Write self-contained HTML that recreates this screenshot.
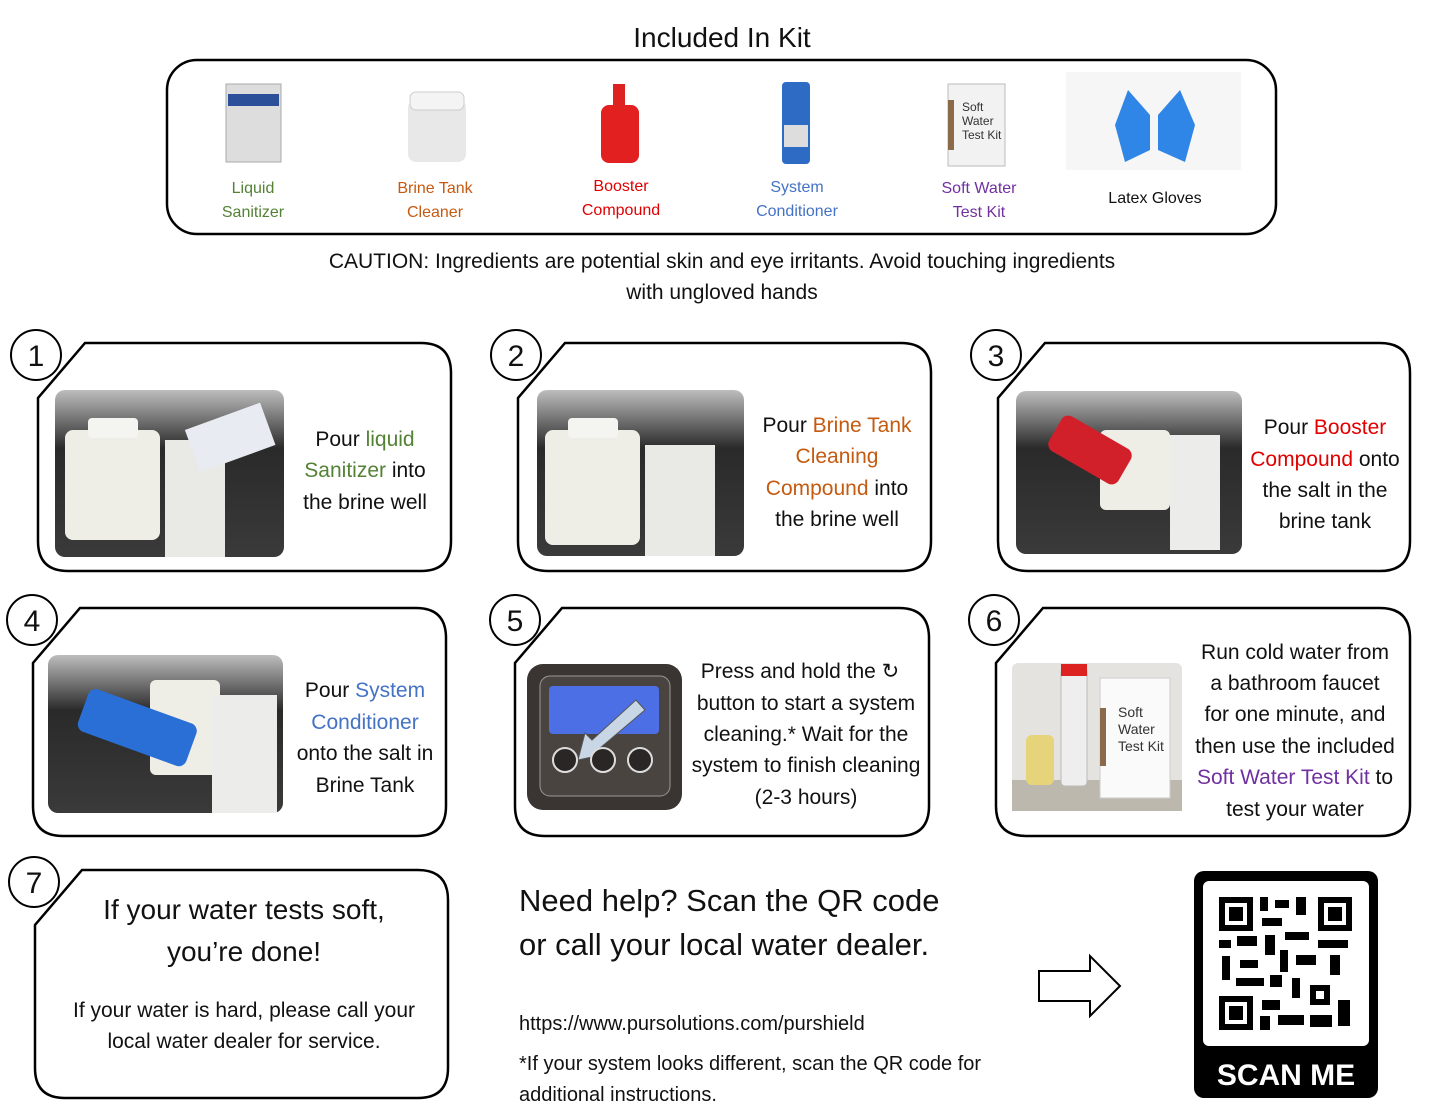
<!DOCTYPE html><html><head><meta charset="utf-8"><style>
html,body{margin:0;padding:0;background:#fff;}
svg{display:block;font-family:"Liberation Sans",sans-serif;}
</style></head><body>
<svg width="1445" height="1117" viewBox="0 0 1445 1117" xmlns="http://www.w3.org/2000/svg">
<defs>
<linearGradient id="ph" x1="0" y1="0" x2="0" y2="1"><stop offset="0" stop-color="#bdbdbd"/><stop offset="0.35" stop-color="#2a2a2a"/><stop offset="1" stop-color="#3a3a3a"/></linearGradient>
</defs>
<text x="722" y="47" font-size="28" text-anchor="middle" fill="#111">Included In Kit</text>
<rect x="167" y="60" width="1109" height="174" rx="30" fill="none" stroke="#000" stroke-width="2.5"/>
<rect x="226" y="84" width="55" height="78" fill="#ddd" stroke="#aaa"/><rect x="228" y="94" width="51" height="12" fill="#2c4f9a"/>
<rect x="408" y="100" width="58" height="62" rx="8" fill="#e8e8e8"/><rect x="410" y="92" width="54" height="18" rx="6" fill="#f4f4f4" stroke="#ccc"/>
<rect x="601" y="105" width="38" height="58" rx="8" fill="#e32020"/><rect x="613" y="84" width="12" height="22" fill="#d22"/>
<rect x="782" y="82" width="28" height="82" rx="4" fill="#2e6bc4"/><rect x="784" y="125" width="24" height="22" fill="#ddd"/>
<rect x="948" y="84" width="57" height="82" fill="#f2f2f2" stroke="#bbb"/><rect x="948" y="100" width="6" height="50" fill="#8b6a4a"/>
<text font-size="12" fill="#333"><tspan x="962" y="111">Soft</tspan><tspan x="962" y="125">Water</tspan><tspan x="962" y="139">Test Kit</tspan></text>
<rect x="1066" y="72" width="175" height="98" fill="#f6f6f6"/>
<path d="M1125 162 L1115 125 L1128 90 L1150 115 L1150 150 Z" fill="#2f86e6"/>
<path d="M1185 162 L1195 125 L1180 90 L1158 115 L1158 150 Z" fill="#2f86e6"/>
<g font-size="16" text-anchor="middle">
<text fill="#548235"><tspan x="253" y="193">Liquid</tspan><tspan x="253" y="217">Sanitizer</tspan></text>
<text fill="#c55a11"><tspan x="435" y="193">Brine Tank</tspan><tspan x="435" y="217">Cleaner</tspan></text>
<text fill="#e00000"><tspan x="621" y="191">Booster</tspan><tspan x="621" y="215">Compound</tspan></text>
<text fill="#4472c4"><tspan x="797" y="192">System</tspan><tspan x="797" y="216">Conditioner</tspan></text>
<text fill="#7030a0"><tspan x="979" y="193">Soft Water</tspan><tspan x="979" y="217">Test Kit</tspan></text>
<text x="1155" y="203" fill="#111">Latex Gloves</text>
</g>
<g font-size="21" text-anchor="middle" fill="#111">
<text x="722" y="268">CAUTION: Ingredients are potential skin and eye irritants. Avoid touching ingredients</text>
<text x="722" y="299">with ungloved hands</text>
</g>
<g fill="none" stroke="#000" stroke-width="2.5">
<path d="M85 343 L421 343 Q451 343 451 373 L451 541 Q451 571 421 571 L68 571 Q38 571 38 541 L38 398 Z"/>
<path d="M565 343 L901 343 Q931 343 931 373 L931 541 Q931 571 901 571 L548 571 Q518 571 518 541 L518 398 Z"/>
<path d="M1045 343 L1380 343 Q1410 343 1410 373 L1410 541 Q1410 571 1380 571 L1028 571 Q998 571 998 541 L998 398 Z"/>
<path d="M80 608 L416 608 Q446 608 446 638 L446 806 Q446 836 416 836 L63 836 Q33 836 33 806 L33 663 Z"/>
<path d="M562 608 L899 608 Q929 608 929 638 L929 806 Q929 836 899 836 L545 836 Q515 836 515 806 L515 663 Z"/>
<path d="M1043 608 L1380 608 Q1410 608 1410 638 L1410 806 Q1410 836 1380 836 L1026 836 Q996 836 996 806 L996 663 Z"/>
<path d="M82 870 L418 870 Q448 870 448 900 L448 1068 Q448 1098 418 1098 L65 1098 Q35 1098 35 1068 L35 925 Z"/>
</g>
<g fill="#fff" stroke="#000" stroke-width="2">
<circle cx="36" cy="355" r="25"/><circle cx="516" cy="355" r="25"/><circle cx="996" cy="355" r="25"/>
<circle cx="32" cy="620" r="25"/><circle cx="515" cy="620" r="25"/><circle cx="994" cy="620" r="25"/><circle cx="34" cy="882" r="25"/>
</g>
<g font-size="30" text-anchor="middle" fill="#111">
<text x="36" y="366">1</text><text x="516" y="366">2</text><text x="996" y="366">3</text>
<text x="32" y="631">4</text><text x="515" y="631">5</text><text x="994" y="631">6</text><text x="34" y="893">7</text>
</g>
<rect x="55" y="390" width="229" height="167" rx="10" fill="url(#ph)"/>
<rect x="65" y="430" width="95" height="110" rx="8" fill="#efeee6"/><rect x="88" y="418" width="50" height="20" rx="4" fill="#f4f4f0"/>
<rect x="165" y="440" width="60" height="117" fill="#e9e9e6"/><rect x="190" y="415" width="80" height="45" fill="#e8ecf2" transform="rotate(-20 230 437)"/>
<rect x="537" y="390" width="207" height="166" rx="10" fill="url(#ph)"/>
<rect x="545" y="430" width="95" height="115" rx="8" fill="#efeee6"/><rect x="568" y="418" width="50" height="20" rx="4" fill="#f4f4f0"/>
<rect x="645" y="445" width="70" height="111" fill="#e9e9e6"/>
<rect x="1016" y="391" width="226" height="163" rx="10" fill="url(#ph)"/>
<rect x="1100" y="430" width="70" height="80" rx="6" fill="#efeee6"/><rect x="1170" y="435" width="50" height="115" fill="#ececea"/>
<rect x="1050" y="430" width="80" height="40" rx="8" fill="#d2202a" transform="rotate(30 1090 450)"/>
<rect x="48" y="655" width="235" height="158" rx="10" fill="url(#ph)"/>
<rect x="150" y="680" width="70" height="95" rx="6" fill="#efeee6"/><rect x="212" y="695" width="65" height="118" fill="#ececea"/>
<rect x="80" y="705" width="115" height="45" rx="8" fill="#2a6fd6" transform="rotate(20 137 727)"/>
<rect x="527" y="664" width="155" height="146" rx="16" fill="#3a3533"/>
<rect x="540" y="676" width="130" height="120" rx="10" fill="#4a4441" stroke="#999"/>
<rect x="549" y="686" width="110" height="48" rx="4" fill="#4d6fe6"/>
<path d="M636 700 L645 710 L600 748 L606 754 L578 760 L585 733 L592 740 Z" fill="#c9d6e6" stroke="#555"/>
<g fill="#2a2626" stroke="#ddd" stroke-width="2"><circle cx="565" cy="760" r="12"/><circle cx="603" cy="760" r="12"/><circle cx="640" cy="760" r="12"/></g>
<rect x="1012" y="663" width="170" height="148" rx="6" fill="#e4e3df"/>
<rect x="1012" y="780" width="170" height="31" fill="#bdb8ae"/>
<rect x="1100" y="678" width="70" height="120" fill="#fafafa" stroke="#ccc"/><rect x="1100" y="708" width="6" height="58" fill="#8b6a4a"/>
<text font-size="14" fill="#333"><tspan x="1118" y="717">Soft</tspan><tspan x="1118" y="734">Water</tspan><tspan x="1118" y="751">Test Kit</tspan></text>
<rect x="1026" y="735" width="28" height="50" rx="6" fill="#e6d47a"/><rect x="1061" y="668" width="26" height="118" rx="4" fill="#eee" stroke="#bbb"/><rect x="1061" y="664" width="26" height="12" fill="#d22"/>
<g font-size="21" text-anchor="middle" fill="#111">
<text><tspan x="365" y="446">Pour <tspan fill="#548235">liquid</tspan></tspan><tspan x="365" y="477"><tspan fill="#548235">Sanitizer</tspan> into</tspan><tspan x="365" y="509">the brine well</tspan></text>
<text><tspan x="837" y="432">Pour <tspan fill="#c55a11">Brine Tank</tspan></tspan><tspan x="837" y="463" fill="#c55a11">Cleaning</tspan><tspan x="837" y="495"><tspan fill="#c55a11">Compound</tspan> into</tspan><tspan x="837" y="526">the brine well</tspan></text>
<text><tspan x="1325" y="434">Pour <tspan fill="#e00000">Booster</tspan></tspan><tspan x="1325" y="466"><tspan fill="#e00000">Compound</tspan> onto</tspan><tspan x="1325" y="497">the salt in the</tspan><tspan x="1325" y="528">brine tank</tspan></text>
<text><tspan x="365" y="697">Pour <tspan fill="#4472c4">System</tspan></tspan><tspan x="365" y="729" fill="#4472c4">Conditioner</tspan><tspan x="365" y="760">onto the salt in</tspan><tspan x="365" y="792">Brine Tank</tspan></text>
<text><tspan x="800" y="678">Press and hold the ↻</tspan><tspan x="806" y="710">button to start a system</tspan><tspan x="806" y="741">cleaning.* Wait for the</tspan><tspan x="806" y="772">system to finish cleaning</tspan><tspan x="806" y="804">(2-3 hours)</tspan></text>
<text><tspan x="1295" y="659">Run cold water from</tspan><tspan x="1295" y="690">a bathroom faucet</tspan><tspan x="1295" y="721">for one minute, and</tspan><tspan x="1295" y="753">then use the included</tspan><tspan x="1295" y="784"><tspan fill="#7030a0">Soft Water Test Kit</tspan> to</tspan><tspan x="1295" y="816">test your water</tspan></text>
<text font-size="28"><tspan x="244" y="919">If your water tests soft,</tspan><tspan x="244" y="961">you’re done!</tspan></text>
<text><tspan x="244" y="1017">If your water is hard, please call your</tspan><tspan x="244" y="1048">local water dealer for service.</tspan></text>
</g>
<g fill="#111">
<text x="519" y="911" font-size="31">Need help? Scan the QR code</text>
<text x="519" y="955" font-size="31">or call your local water dealer.</text>
<text x="519" y="1030" font-size="20">https://www.pursolutions.com/purshield</text>
<text x="519" y="1070" font-size="20">*If your system looks different, scan the QR code for</text>
<text x="519" y="1101" font-size="20">additional instructions.</text>
</g>
<path d="M1039 971 L1090 971 L1090 956 L1120 986 L1090 1016 L1090 1001 L1039 1001 Z" fill="#fff" stroke="#000" stroke-width="2"/>
<rect x="1194" y="871" width="184" height="227" rx="10" fill="#000"/>
<rect x="1203" y="881" width="166" height="165" rx="6" fill="#fff"/>
<g fill="#000">
<rect x="1219" y="897" width="34" height="34"/><rect x="1225" y="903" width="22" height="22" fill="#fff"/><rect x="1229" y="907" width="14" height="14"/>
<rect x="1318" y="897" width="34" height="34"/><rect x="1324" y="903" width="22" height="22" fill="#fff"/><rect x="1328" y="907" width="14" height="14"/>
<rect x="1219" y="996" width="34" height="34"/><rect x="1225" y="1002" width="22" height="22" fill="#fff"/><rect x="1229" y="1006" width="14" height="14"/>
<rect x="1260" y="897" width="8" height="14"/><rect x="1275" y="900" width="14" height="8"/><rect x="1296" y="897" width="10" height="18"/><rect x="1262" y="918" width="20" height="8"/>
<rect x="1219" y="940" width="12" height="8"/><rect x="1237" y="936" width="20" height="10"/><rect x="1265" y="935" width="10" height="20"/><rect x="1285" y="932" width="24" height="8"/><rect x="1318" y="940" width="30" height="8"/>
<rect x="1222" y="956" width="8" height="24"/><rect x="1240" y="960" width="18" height="8"/><rect x="1280" y="950" width="8" height="22"/><rect x="1296" y="955" width="20" height="10"/><rect x="1330" y="955" width="10" height="20"/>
<rect x="1236" y="978" width="28" height="8"/><rect x="1270" y="975" width="12" height="12"/><rect x="1292" y="978" width="8" height="20"/><rect x="1310" y="985" width="20" height="20"/><rect x="1316" y="991" width="8" height="8" fill="#fff"/>
<rect x="1262" y="1000" width="18" height="10"/><rect x="1260" y="1016" width="10" height="14"/><rect x="1278" y="1015" width="26" height="10"/><rect x="1338" y="1000" width="12" height="26"/><rect x="1310" y="1015" width="22" height="12"/>
</g>
<text x="1286" y="1085" font-size="30" text-anchor="middle" fill="#fff" font-weight="bold">SCAN ME</text>
</svg>
</body></html>
